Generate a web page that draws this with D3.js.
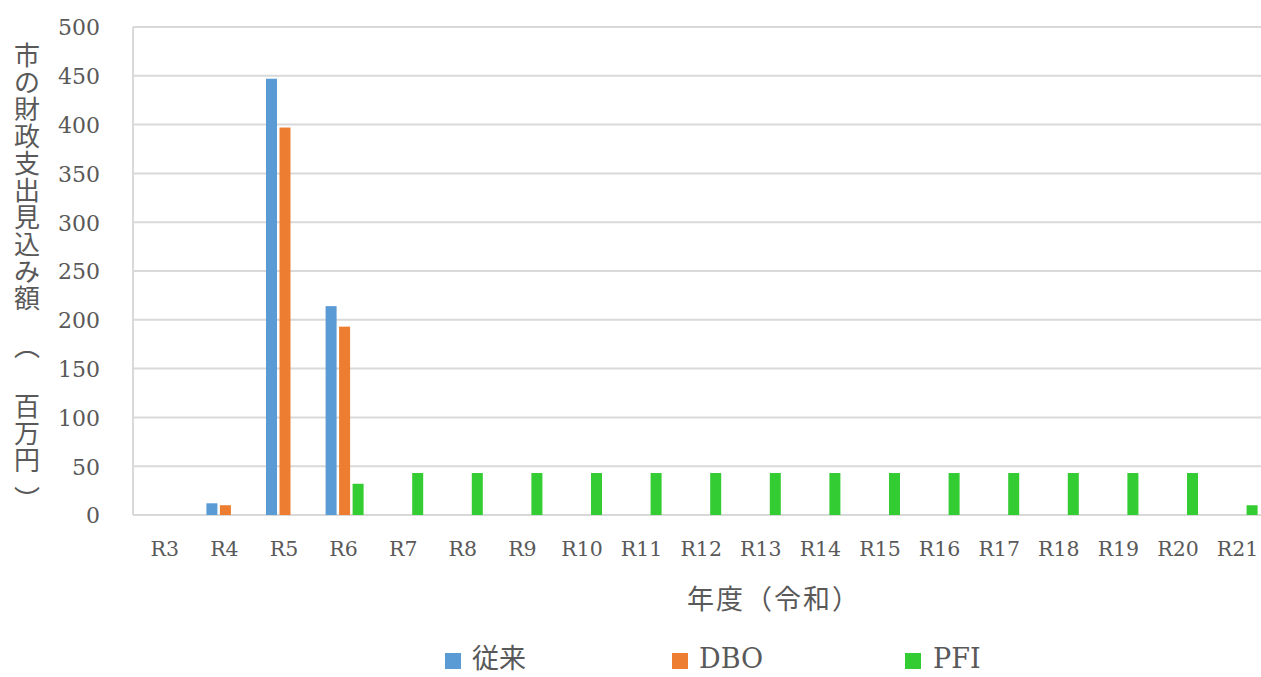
<!DOCTYPE html>
<html>
<head>
<meta charset="utf-8">
<script src="https://cdn.jsdelivr.net/npm/d3@7"></script>
<style>
  html, body { margin: 0; padding: 0; background: #fff; overflow: hidden; }
  svg { display: block; }
</style>
</head>
<body>
<svg id="chart" width="1261" height="677"></svg>
<script>
// Fiscal years (Reiwa era)
const years = ["R3","R4","R5","R6","R7","R8","R9","R10","R11","R12","R13","R14","R15","R16","R17","R18","R19","R20","R21"];
// Projected city expenditure (million yen) per delivery scheme
const conventional = [0, 12, 447, 214, 0, 0, 0, 0, 0, 0, 0, 0, 0, 0, 0, 0, 0, 0, 0];
const dbo          = [0, 10, 397, 193, 0, 0, 0, 0, 0, 0, 0, 0, 0, 0, 0, 0, 0, 0, 0];
const pfi          = [0, 0, 0, 32, 43, 43, 43, 43, 43, 43, 43, 43, 43, 43, 43, 43, 43, 43, 10];
const seriesNames  = ["従来", "DBO", "PFI"];
const yTicks       = [0, 50, 100, 150, 200, 250, 300, 350, 400, 450, 500];
// Vertical axis title, one glyph per slot
const yTitleChars  = ["市","の","財","政","支","出","見","込","み","額","　","︵","　","百","万","円","︶"];

const colors = { "従来": "#5B9BD5", "DBO": "#ED7D31", "PFI": "#33CC33" };
const serifFont = "'DejaVu Serif', 'Liberation Serif', serif";
const cjkFont = "'Noto Sans CJK JP', 'Noto Sans', sans-serif";
const textColor = "#595959";
const gridColor = "#D9D9D9";

const svg = d3.select("#chart");

const plot = { left: 135, top: 27, bottom: 515, step: 59.6 };
plot.right = plot.left + plot.step * years.length;

const x = d3.scaleBand().domain(years).range([plot.left, plot.right]).padding(0);
const y = d3.scaleLinear().domain([0, 500]).range([plot.bottom, plot.top]);
const xInner = d3.scaleBand().domain(seriesNames).range([-18, 20]).paddingInner(0.185);

const valuesBy = { "従来": conventional, "DBO": dbo, "PFI": pfi };

// Gridlines
svg.append("g")
  .selectAll("line")
  .data(yTicks)
  .join("line")
  .attr("x1", plot.left - 2)
  .attr("x2", plot.right)
  .attr("y1", d => y(d))
  .attr("y2", d => y(d))
  .attr("stroke", gridColor)
  .attr("stroke-width", 2);

// Left border of plot area
svg.append("line")
  .attr("x1", plot.left - 2).attr("x2", plot.left - 2)
  .attr("y1", y(500)).attr("y2", y(0))
  .attr("stroke", gridColor).attr("stroke-width", 2);

// Bars
const rows = [];
seriesNames.forEach(s => {
  valuesBy[s].forEach((v, i) => {
    if (v > 0) rows.push({ series: s, year: years[i], value: v });
  });
});

svg.append("g")
  .selectAll("rect")
  .data(rows)
  .join("rect")
  .attr("x", d => x(d.year) + x.bandwidth() / 2 + xInner(d.series))
  .attr("width", xInner.bandwidth())
  .attr("y", d => y(d.value))
  .attr("height", d => y(0) - y(d.value))
  .attr("fill", d => colors[d.series]);

// Y axis labels
const yAxis = d3.axisLeft(y).tickValues(yTicks).tickSize(0).tickPadding(0);
const gy = svg.append("g").attr("transform", "translate(100,0)").call(yAxis);
gy.select(".domain").remove();
gy.selectAll("text")
  .attr("font-family", serifFont)
  .attr("font-size", 22)
  .attr("fill", textColor)
  .attr("dy", "0.36em");

// X axis labels
const xAxis = d3.axisBottom(x).tickSize(0).tickPadding(0);
const gx = svg.append("g").attr("transform", "translate(0,540)").call(xAxis);
gx.select(".domain").remove();
gx.selectAll("text")
  .attr("font-family", serifFont)
  .attr("font-size", 20.5)
  .attr("fill", textColor)
  .attr("dy", "0.76em");

// X axis title
svg.append("text")
  .attr("x", 774)
  .attr("y", 609)
  .attr("text-anchor", "middle")
  .attr("font-family", cjkFont)
  .attr("font-size", 27)
  .attr("letter-spacing", 2)
  .attr("fill", textColor)
  .text("年度（令和）");

// Y axis title: one text element, each glyph placed on its own slot down the left edge
const titlePitch = 27;
const bracketShift = { "︵": -6, "︶": 12 };   // vertical bracket glyphs sit off-centre in their em box
const slotY = yTitleChars.map((c, i) => 53 + i * titlePitch + (bracketShift[c] || 0));
svg.append("text")
  .attr("x", yTitleChars.map(() => 27).join(" "))
  .attr("y", slotY.join(" "))
  .attr("text-anchor", "middle")
  .attr("dominant-baseline", "central")
  .attr("font-family", cjkFont)
  .attr("font-size", 26)
  .attr("fill", textColor)
  .text(yTitleChars.join(""));

// Legend
const legendItems = [
  { name: "従来", sx: 445, tx: 472 },
  { name: "DBO", sx: 672, tx: 699 },
  { name: "PFI", sx: 905, tx: 933 }
];
const lg = svg.append("g");
lg.selectAll("rect")
  .data(legendItems)
  .join("rect")
  .attr("x", d => d.sx)
  .attr("y", 653)
  .attr("width", 16)
  .attr("height", 16)
  .attr("fill", d => colors[d.name]);
lg.selectAll("text")
  .data(legendItems)
  .join("text")
  .attr("x", d => d.tx)
  .attr("y", 668)
  .attr("font-family", d => d.name === "従来" ? cjkFont : serifFont)
  .attr("font-size", 27)
  .attr("fill", textColor)
  .text(d => d.name);
</script>
</body>
</html>
